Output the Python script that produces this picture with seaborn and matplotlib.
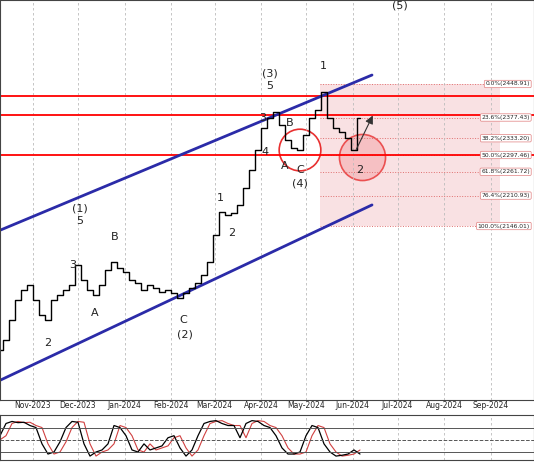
import numpy as np
import pandas as pd
import matplotlib.pyplot as plt
import matplotlib.dates as mdates
import seaborn as sns

sns.set_theme(style="white")
plt.rcParams['font.family'] = ['DejaVu Sans']

# price closes every 4 days from 2023-10-10
closes = [1881, 1903, 1945, 1988, 2009, 2020, 1988, 1956, 1945, 1988, 1999, 2009, 2020, 2063, 2031,
          2009, 1999, 2020, 2052, 2069, 2056, 2048, 2031, 2024, 2009, 2020, 2014, 2005, 2009, 2003,
          1992, 2003, 2014, 2024, 2041, 2069, 2127, 2176, 2169, 2174, 2191, 2227, 2265, 2308, 2355,
          2376, 2389, 2361, 2329, 2312, 2308, 2340, 2376, 2393, 2432, 2376, 2355, 2346, 2334, 2308, 2376]
stoch_k = [60, 90, 95, 92, 93, 85, 80, 40, 15, 20, 45, 80, 95, 93, 40, 10, 20, 25, 40, 85, 80, 60, 25,
           20, 40, 25, 30, 35, 55, 60, 30, 10, 25, 60, 90, 95, 97, 90, 85, 85, 55, 90, 97, 95, 85, 80,
           60, 30, 15, 15, 20, 60, 85, 80, 40, 20, 10, 12, 15, 25, 15]
stoch_d = [50, 60, 90, 95, 92, 93, 85, 80, 40, 15, 20, 45, 80, 95, 93, 40, 10, 20, 25, 40, 85, 80, 60,
           25, 20, 40, 25, 30, 35, 55, 60, 30, 10, 25, 60, 90, 95, 97, 90, 85, 85, 55, 90, 97, 95, 85,
           80, 60, 30, 15, 15, 20, 60, 85, 80, 40, 20, 10, 12, 15, 25]
dates = pd.date_range("2023-10-10", periods=len(closes), freq="4D")
df = pd.DataFrame({"date": dates, "close": closes, "k": stoch_k, "d": stoch_d})

fib_pct = ["0.0%", "23.6%", "38.2%", "50.0%", "61.8%", "76.4%", "100.0%"]
fib_val = [2448.91, 2377.43, 2333.20, 2297.46, 2261.72, 2210.93, 2146.01]
red_levels = [2423, 2383, 2297]
chan_x = [pd.Timestamp("2023-10-10"), pd.Timestamp("2024-06-14")]
chan_up = [2137, 2468]
chan_lo = [1817, 2191]

t0 = pd.Timestamp("2023-10-10")
def px(x, y):
    return mdates.date2num(t0 + pd.Timedelta(days=x / 1.5)), 2628 - 2.133 * y

fig = plt.figure(figsize=(5.34, 4.62), dpi=100)
ax = fig.add_axes([0, 0.134, 1, 0.866])
ax2 = fig.add_axes([0, 0.004, 1, 0.097])

xmin, xmax = px(0, 0)[0], px(534, 0)[0]
ymin, ymax = 2628 - 2.133 * 400, 2628

# fib zone
fx0, fx1 = px(320, 0)[0], px(500, 0)[0]
ax.axhspan(fib_val[-1], fib_val[0], xmin=(fx0 - xmin) / (xmax - xmin), xmax=(fx1 - xmin) / (xmax - xmin),
           color="#f7d5d8", alpha=0.7, lw=0)
for p, v in zip(fib_pct, fib_val):
    ax.hlines(v, fx0, fx1, colors="#e07070", linestyles=":", lw=0.7)
    ax.text(px(530, 0)[0], v, f"{p}({v:.2f})", fontsize=4.3, ha="right", va="center",
            bbox=dict(boxstyle="round,pad=0.2", fc="white", ec="#e08080", lw=0.5))

for m in pd.date_range("2023-11-01", "2024-09-01", freq="MS"):
    ax.axvline(m, color="#bbbbbb", ls=(0, (3, 3)), lw=0.6)
    ax2.axvline(m, color="#bbbbbb", ls=(0, (3, 3)), lw=0.6)

for v in red_levels:
    ax.axhline(v, color="red", lw=1.3)
ax.plot(chan_x, chan_up, color="#2b2ba8", lw=2)
ax.plot(chan_x, chan_lo, color="#2b2ba8", lw=2)

sns.lineplot(data=df, x="date", y="close", ax=ax, color="black", lw=1, drawstyle="steps-mid")

ax.scatter(*px(300, 150), s=900, facecolor="none", edgecolor="#e83030", lw=1.2)
ax.scatter(*px(362, 157), s=1100, facecolor="#f6b8bc", edgecolor="#e83030", lw=1.2, alpha=0.8)
ax.annotate("", xy=px(374, 113), xytext=px(355, 152),
            arrowprops=dict(arrowstyle="-|>", color="#333333", lw=0.8))

labels = [("(1)", 80, 208), ("5", 80, 221), ("3", 73, 265), ("2", 48, 343), ("A", 95, 313),
          ("B", 115, 237), ("C", 183, 320), ("(2)", 185, 334), ("1", 220, 198), ("2", 232, 233),
          ("3", 263, 118), ("4", 265, 152), ("(3)", 270, 73), ("5", 270, 86), ("B", 290, 123),
          ("A", 285, 166), ("C", 300, 170), ("(4)", 300, 183), ("1", 323, 66), ("2", 360, 170),
          ("(5)", 400, 5)]
for s, x, y in labels:
    ax.text(*px(x, y), s, fontsize=8, ha="center", va="center", color="#222222")

ax.set_xlim(xmin, xmax)
ax.set_ylim(ymin, ymax)
ax.xaxis.set_major_locator(mdates.MonthLocator())
ax.xaxis.set_major_formatter(mdates.DateFormatter("%b-%Y"))
ax.tick_params(axis="x", labelsize=5.5, pad=1, length=0)
ax.set_yticks([])
ax.set_xlabel("")
ax.set_ylabel("")

sns.lineplot(data=df, x="date", y="d", ax=ax2, color="#d04040", lw=0.8)
sns.lineplot(data=df, x="date", y="k", ax=ax2, color="black", lw=0.9)
for v, ls in [(80, "-"), (50, "--"), (20, "-")]:
    ax2.axhline(v, color="#555555", lw=0.7, ls=ls)
ax2.set_xlim(xmin, xmax)
ax2.set_ylim(0, 110)
ax2.set_xticks([])
ax2.set_yticks([])
ax2.set_xlabel("")
ax2.set_ylabel("")
for a in (ax, ax2):
    for sp in a.spines.values():
        sp.set_color("#444444")
        sp.set_linewidth(0.8)

fig.savefig("out.png", dpi=100)
